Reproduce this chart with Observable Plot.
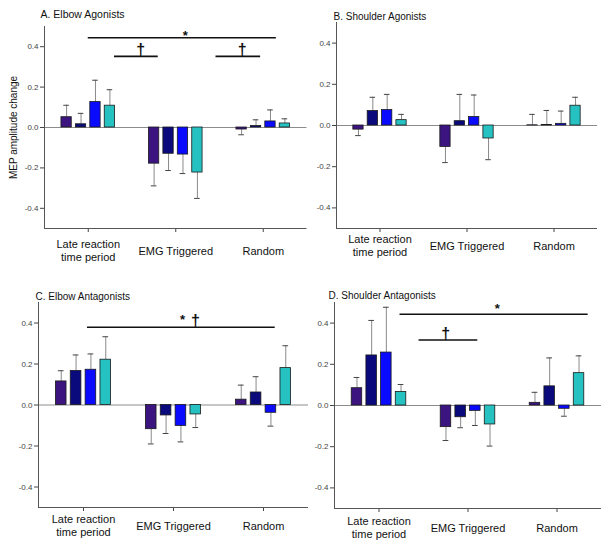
<!DOCTYPE html>
<html>
<head>
<meta charset="utf-8">
<script src="https://cdn.jsdelivr.net/npm/d3@7"></script>
<script src="https://cdn.jsdelivr.net/npm/@observablehq/plot@0.6"></script>
<style>
  html, body { margin: 0; padding: 0; background: white; }
  #chart { position: relative; width: 609px; height: 550px; font-family: "Liberation Sans", Arial, sans-serif; overflow: hidden; }
  #chart .panel { position: absolute; }
  #chart svg { background: transparent !important; overflow: visible; }
</style>
</head>
<body>
<div id="chart"></div>
<script>
// ---- data ----
const categories = ["Late reaction\ntime period", "EMG Triggered", "Random"];
const groups = ["G1", "G2", "G3", "G4"];
const groupColors = ["#3c1480", "#0a0a7c", "#0a0aff", "#26c2c2"];
const yTicks = [-0.4, -0.2, 0, 0.2, 0.4];

// values ordered category-major: Late(G1..G4), EMG(G1..G4), Random(G1..G4)
const elbowAgonistsMean = [0.051, 0.016, 0.126, 0.108, -0.179, -0.130, -0.134, -0.223, -0.010, 0.007, 0.030, 0.020];
const elbowAgonistsSE   = [0.059, 0.054, 0.108, 0.079, 0.110, 0.083, 0.094, 0.128, 0.026, 0.031, 0.057, 0.023];
const shoulderAgonistsMean = [-0.020, 0.070, 0.075, 0.026, -0.104, 0.021, 0.041, -0.063, 0.001, 0.002, 0.008, 0.096];
const shoulderAgonistsSE   = [0.029, 0.067, 0.076, 0.028, 0.076, 0.130, 0.107, 0.103, 0.053, 0.071, 0.062, 0.041];
const elbowAntagonistsMean = [0.115, 0.166, 0.172, 0.221, -0.118, -0.051, -0.102, -0.046, 0.026, 0.061, -0.038, 0.180];
const elbowAntagonistsSE   = [0.052, 0.078, 0.077, 0.112, 0.072, 0.088, 0.078, 0.064, 0.071, 0.077, 0.065, 0.109];
const shoulderAntagonistsMean = [0.084, 0.243, 0.257, 0.066, -0.105, -0.057, -0.026, -0.092, 0.013, 0.093, -0.016, 0.157];
const shoulderAntagonistsSE   = [0.052, 0.170, 0.220, 0.036, 0.065, 0.051, 0.071, 0.105, 0.051, 0.138, 0.036, 0.084];

// significance annotations (category-index units on x, value units on y)
const annElbowAgLines = [{x1: 0, x2: 2.15, y: 0.444}, {x1: 0.30, x2: 0.80, y: 0.352}, {x1: 1.46, x2: 1.97, y: 0.352}];
const annElbowAgMarks = [{x: 1.11, y: 0.444, t: "*"}, {x: 0.60, y: 0.352, t: "\u2020"}, {x: 1.76, y: 0.352, t: "\u2020"}];
const annElbowAntLines = [{x1: 0.044, x2: 2.13, y: 0.379}];
const annElbowAntMarks = [{x: 1.10, y: 0.379, t: "*"}, {x: 1.245, y: 0.379, t: "\u2020"}];
const annShoulderAntLines = [{x1: 0.236, x2: 2.35, y: 0.443}, {x1: 0.45, x2: 1.11, y: 0.318}];
const annShoulderAntMarks = [{x: 1.33, y: 0.443, t: "*"}, {x: 0.75, y: 0.318, t: "\u2020"}];

// ---- drawing ----
const barStep = 0.165, barWidth = 0.118, capHalf = 0.032;

function rows(mean, se) {
  return mean.map((v, i) => {
    const c = Math.floor(i / 4), g = i % 4;
    const xc = c + (g - 1.5) * barStep;
    const end = v >= 0 ? v + se[i] : v - se[i];
    return {c, g, group: groups[g], v, end, xc};
  });
}

function panel(opts) {
  const data = rows(opts.mean, opts.se);
  const fmt = d => d.toFixed(1);
  const marks = [
    Plot.ruleY([0], {stroke: "#8c8c8c", strokeWidth: 1}),
    Plot.ruleX(data, {x: "xc", y1: "v", y2: "end", stroke: "#8a8a8a", strokeWidth: 1}),
    Plot.ruleY(data, {y: "end", x1: d => d.xc - capHalf, x2: d => d.xc + capHalf, stroke: "#444", strokeWidth: 1}),
    Plot.rectY(data, {x1: d => d.xc - barWidth / 2, x2: d => d.xc + barWidth / 2, y1: 0, y2: "v",
      fill: d => groupColors[d.g], stroke: "#1a1a1a", strokeWidth: 0.8}),
    Plot.ruleX([-0.5], {y1: -0.5, y2: 0.5, stroke: "#555", strokeWidth: 1}),
    Plot.ruleY([-0.5], {stroke: "#555", strokeWidth: 1}),
    Plot.text(categories, {x: (d, i) => i, text: d => d, frameAnchor: "bottom", dy: opts.labelDy,
      lineAnchor: "middle", lineHeight: 1.2, fontSize: 11, fill: "#111"}),
    Plot.text([opts.title], {frameAnchor: "top-left", textAnchor: "start", lineAnchor: "middle",
      dx: opts.titleDx, dy: opts.titleDy, fontSize: opts.titleSize, fill: "#111"})
  ];
  if (opts.lines) {
    marks.push(Plot.ruleY(opts.lines, {y: "y", x1: "x1", x2: "x2", stroke: "#111", strokeWidth: 1.6}));
    marks.push(Plot.text(opts.marksText.filter(d => d.t === "*"), {x: "x", y: "y", text: "t", fontSize: 13,
      fontWeight: "bold", lineAnchor: "middle", dy: opts.starDy, fill: "#111"}));
    marks.push(Plot.text(opts.marksText.filter(d => d.t !== "*"), {x: "x", y: "y", text: "t", fontSize: 16,
      fontWeight: "bold", lineAnchor: "bottom", dy: -1, fill: "#111"}));
  }
  if (opts.ylabel) {
    marks.push(Plot.text([opts.ylabel], {frameAnchor: "left", textAnchor: "middle", rotate: -90, dx: -31,
      fontSize: 10, fill: "#111"}));
  }
  const range = opts.step * 3;
  const plot = Plot.plot({
    width: opts.marginLeft + range,
    height: opts.height,
    marginLeft: opts.marginLeft,
    marginRight: 0,
    marginTop: opts.marginTop,
    marginBottom: opts.marginBottom,
    style: {fontFamily: "Liberation Sans, Arial, sans-serif", fontSize: "8px", color: "#444", background: "transparent", overflow: "visible"},
    x: {domain: [-0.5, 2.5], ticks: [0, 1, 2], tickFormat: () => "", tickSize: 4, label: null},
    y: {domain: [-0.5, 0.5], ticks: yTicks, tickFormat: fmt, tickSize: 4, tickPadding: 2, label: null},
    marks
  });
  const div = document.createElement("div");
  div.className = "panel";
  div.style.left = opts.left + "px";
  div.style.top = opts.top + "px";
  div.appendChild(plot);
  document.getElementById("chart").appendChild(div);
}

panel({title: "A. Elbow Agonists", mean: elbowAgonistsMean, se: elbowAgonistsSE, left: 0, top: 0,
  marginLeft: 44, step: 87.5, marginTop: 26, height: 270, marginBottom: 42, labelDy: 22,
  titleDx: -4, titleDy: -12, titleSize: 10.5, ylabel: "MEP amplitude change",
  lines: annElbowAgLines, marksText: annElbowAgMarks, starDy: -2});
panel({title: "B. Shoulder Agonists", mean: shoulderAgonistsMean, se: shoulderAgonistsSE, left: 300, top: 0,
  marginLeft: 36, step: 87, marginTop: 22, height: 270, marginBottom: 42, labelDy: 17,
  titleDx: -3, titleDy: -6, titleSize: 10});
panel({title: "C. Elbow Antagonists", mean: elbowAntagonistsMean, se: elbowAntagonistsSE, left: 0, top: 270,
  marginLeft: 38, step: 90, marginTop: 32, height: 279, marginBottom: 42, labelDy: 18,
  titleDx: -3, titleDy: -6, titleSize: 10,
  lines: annElbowAntLines, marksText: annElbowAntMarks, starDy: -7});
panel({title: "D. Shoulder Antagonists", mean: shoulderAntagonistsMean, se: shoulderAntagonistsSE, left: 300, top: 270,
  marginLeft: 34, step: 89, marginTop: 32, height: 279, marginBottom: 41, labelDy: 19,
  titleDx: -6, titleDy: -7, titleSize: 10,
  lines: annShoulderAntLines, marksText: annShoulderAntMarks, starDy: -5});
</script>
</body>
</html>
